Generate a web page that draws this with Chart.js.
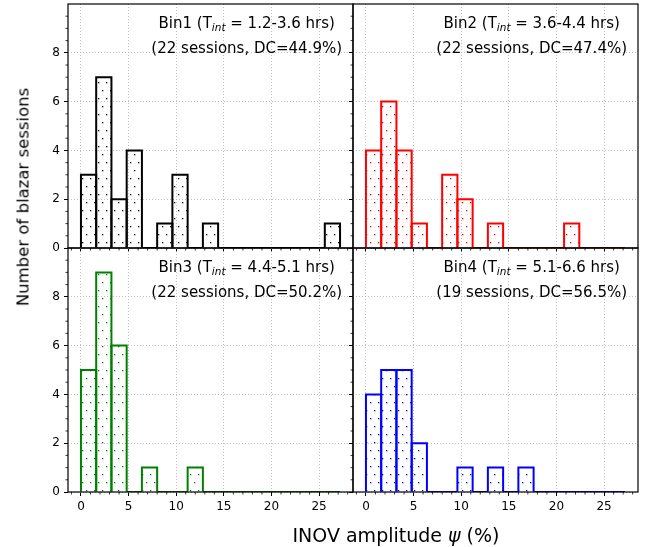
<!DOCTYPE html>
<html lang="en">
<head>
<meta charset="UTF-8">
<title>INOV amplitude histograms</title>
<script src="https://cdn.jsdelivr.net/npm/chart.js"></script>
<style>
  body { margin: 0; background: #fff; }
  #wrap { position: relative; width: 646px; height: 547px; font-family: "DejaVu Sans", sans-serif; }
  #wrap canvas { position: absolute; left: 0; top: 0; }
  .lab { position: absolute; white-space: nowrap; color: #000; }
  #ylab { font-size: 16.5px; left: 23px; top: 197px; transform: translate(-50%, -50%) rotate(-90deg); }
  #xlab { font-size: 19px; left: 396px; top: 535px; transform: translate(-50%, -50%); }
</style>
</head>
<body>
<div id="wrap">
  <canvas id="c1" width="646" height="547"></canvas>
  <canvas id="c2" width="646" height="547"></canvas>
  <canvas id="c3" width="646" height="547"></canvas>
  <canvas id="c4" width="646" height="547"></canvas>
  <div class="lab" id="ylab">Number of blazar sessions</div>
  <div class="lab" id="xlab">INOV amplitude <i>ψ</i> (%)</div>
</div>

<script>
// histogram bins (centres, %), same 17 bins for every panel
const binCenters = [0.8, 2.4, 4.0, 5.6, 7.2, 8.8, 10.4, 12.0, 13.6, 15.2, 16.8, 18.4, 20.0, 21.6, 23.2, 24.8, 26.4];

const bin1Counts = [3, 7, 2, 4, 0, 1, 3, 0, 1, 0, 0, 0, 0, 0, 0, 0, 1];
const bin2Counts = [4, 6, 4, 1, 0, 3, 2, 0, 1, 0, 0, 0, 0, 1, 0, 0, 0];
const bin3Counts = [5, 9, 6, 0, 1, 0, 0, 1, 0, 0, 0, 0, 0, 0, 0, 0, 0];
const bin4Counts = [4, 5, 5, 2, 0, 0, 1, 0, 1, 0, 1, 0, 0, 0, 0, 0, 0];

const binNames = ['Bin1', 'Bin2', 'Bin3', 'Bin4'];
const tintRanges = ['1.2-3.6', '3.6-4.4', '4.4-5.1', '5.1-6.6'];
const nSessions = [22, 22, 22, 19];
const dutyCycles = ['44.9', '47.4', '50.2', '56.5'];

const xTicks = [0, 5, 10, 15, 20, 25];
const yTicks = [0, 2, 4, 6, 8];

const colors = ['#000000', '#ff0000', '#008000', '#0000ff'];
const allCounts = [bin1Counts, bin2Counts, bin3Counts, bin4Counts];

// panel boxes in page pixels
const W = 646, H = 547;
const panels = [
  {left: 68, top: 4, right: 353, bottom: 248},
  {left: 353, top: 4, right: 638, bottom: 248},
  {left: 68, top: 248, right: 353, bottom: 492},
  {left: 353, top: 248, right: 638, bottom: 492}
];
const AXW = 40, AXH = 30;
const FONT = '"DejaVu Sans", sans-serif';

function dotPattern(color) {
  const c = document.createElement('canvas');
  c.width = 8; c.height = 16;
  const g = c.getContext('2d');
  g.fillStyle = color;
  g.fillRect(2, 2, 1.3, 1.3);
  g.fillRect(6, 10, 1.3, 1.3);
  return g.createPattern(c, 'repeat');
}

const histPlugin = {
  id: 'hist',
  afterDatasetsDraw(chart) {
    const ctx = chart.ctx, a = chart.chartArea;
    const color = chart.options.plugins.hist.color;
    const meta = chart.getDatasetMeta(0);
    ctx.save();
    ctx.beginPath();
    ctx.rect(a.left, a.top, a.right - a.left, a.bottom - a.top);
    ctx.clip();
    ctx.strokeStyle = color;
    ctx.lineWidth = 2;
    ctx.lineJoin = 'miter';
    meta.data.forEach(el => {
      const p = el.getProps(['x', 'y', 'base', 'width'], true);
      const l = p.x - p.width / 2, r = p.x + p.width / 2;
      ctx.beginPath();
      ctx.moveTo(l, p.base);
      ctx.lineTo(l, p.y);
      ctx.lineTo(r, p.y);
      ctx.lineTo(r, p.base);
      ctx.stroke();
    });
    ctx.restore();
  },
  afterDraw(chart) {
    const ctx = chart.ctx, a = chart.chartArea;
    const o = chart.options.plugins.hist;
    const xs = chart.scales.x, ys = chart.scales.y;
    ctx.save();
    // minor ticks
    ctx.strokeStyle = '#000';
    ctx.lineWidth = 0.8;
    ctx.beginPath();
    for (let v = -1; v <= 28; v++) {
      if (v % 5 === 0) continue;
      const px = xs.getPixelForValue(v);
      ctx.moveTo(px, a.bottom);
      ctx.lineTo(px, a.bottom + 2.5);
    }
    for (let v = 0.5; v < 10; v += 0.5) {
      if (v % 2 === 0) continue;
      const py = ys.getPixelForValue(v);
      ctx.moveTo(a.left, py);
      ctx.lineTo(a.left - 2.5, py);
    }
    ctx.stroke();
    // frame
    ctx.lineWidth = 1.2;
    ctx.strokeRect(a.left, a.top, a.right - a.left, a.bottom - a.top);
    // annotation
    const cx = a.left + 0.627 * (a.right - a.left);
    ctx.fillStyle = '#000';
    ctx.textBaseline = 'alphabetic';
    const big = '15px ' + FONT, sub = 'italic 10.5px ' + FONT;
    const p1 = o.name + ' (T', p2 = 'int', p3 = ' = ' + o.range + ' hrs)';
    ctx.font = big;
    const w1 = ctx.measureText(p1).width, w3 = ctx.measureText(p3).width;
    ctx.font = sub;
    const w2 = ctx.measureText(p2).width;
    let x = cx - (w1 + w2 + w3) / 2;
    const y1 = a.top + 24;
    ctx.textAlign = 'left';
    ctx.font = big; ctx.fillText(p1, x, y1); x += w1;
    ctx.font = sub; ctx.fillText(p2, x, y1 + 3); x += w2;
    ctx.font = big; ctx.fillText(p3, x, y1);
    ctx.textAlign = 'center';
    ctx.fillText('(' + o.sessions + ' sessions, DC=' + o.dc + '%)', cx, a.top + 49);
    ctx.restore();
  }
};

function makeChart(i) {
  const p = panels[i];
  const isLeft = (i % 2 === 0), isBottom = (i >= 2);
  const counts = allCounts[i];
  new Chart(document.getElementById('c' + (i + 1)), {
    type: 'bar',
    data: {
      datasets: [{
        data: binCenters.map((c, k) => ({x: c, y: counts[k]})),
        backgroundColor: dotPattern(colors[i]),
        borderWidth: 0,
        barPercentage: 1,
        categoryPercentage: 1
      }]
    },
    options: {
      responsive: false,
      animation: false,
      events: [],
      layout: {
        padding: {left: p.left - AXW, top: p.top, right: W - p.right, bottom: H - p.bottom - AXH}
      },
      plugins: {
        legend: {display: false},
        tooltip: {enabled: false},
        hist: {
          color: colors[i], name: binNames[i], range: tintRanges[i],
          sessions: nSessions[i], dc: dutyCycles[i]
        }
      },
      scales: {
        x: {
          type: 'linear',
          min: -1.36, max: 28.56,
          offset: false,
          afterFit: s => { s.height = AXH; s.paddingLeft = 0; s.paddingRight = 0; },
          afterBuildTicks: s => { s.ticks = xTicks.map(v => ({value: v})); },
          grid: {color: '#b0b0b0', lineWidth: 0.8, offset: false, tickLength: 4, tickColor: '#000', tickWidth: 1},
          border: {display: false, dash: [1, 2]},
          ticks: {
            padding: 4, color: '#000', font: {family: FONT, size: 12},
            maxRotation: 0, autoSkip: false,
            callback: v => isBottom ? String(v) : ''
          }
        },
        y: {
          min: 0, max: 10,
          afterFit: s => { s.width = AXW; s.paddingTop = 0; s.paddingBottom = 0; },
          afterBuildTicks: s => { s.ticks = yTicks.map(v => ({value: v})); },
          grid: {color: '#b0b0b0', lineWidth: 0.8, tickLength: 4, tickColor: '#000', tickWidth: 1},
          border: {display: false, dash: [1, 2]},
          ticks: {
            padding: 4, color: '#000', font: {family: FONT, size: 12},
            callback: v => isLeft ? String(v) : ''
          }
        }
      }
    },
    plugins: [histPlugin]
  });
}

for (let i = 0; i < 4; i++) makeChart(i);
</script>
</body>
</html>
